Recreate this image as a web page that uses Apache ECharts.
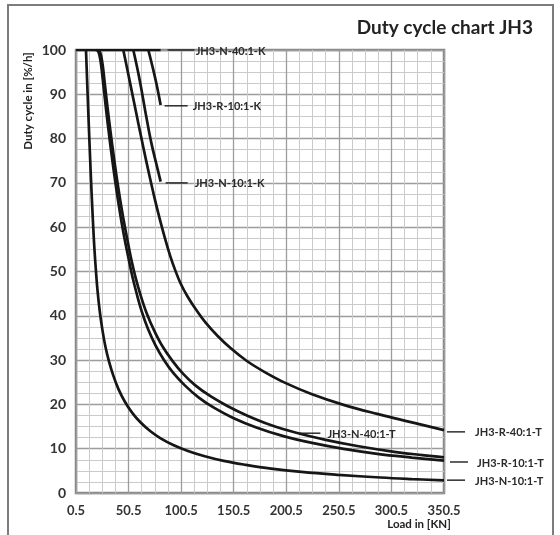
<!DOCTYPE html>
<html><head><meta charset="utf-8">
<script src="https://cdn.jsdelivr.net/npm/echarts@6/dist/echarts.min.js"></script>
<style>html,body{margin:0;padding:0;background:#fff}#c{width:560px;height:535px}</style>
</head><body><div id="c"></div>
<script>
// ---- data ----
const xTickLabels = ['0.5','50.5','100.5','150.5','200.5','250.5','300.5','350.5'];
const yTickLabels = ['0','10','20','30','40','50','60','70','80','90','100'];
const seriesNames = ['JH3-N-40:1-K','JH3-R-10:1-K','JH3-N-10:1-K','JH3-N-40:1-T','JH3-R-40:1-T','JH3-R-10:1-T','JH3-N-10:1-T'];

const n40K = [[0.5,100],[81,100]];
const r10K = [[69.3,100],[73,96.5],[77,92.4],[81,87.6]];
const n10K = [[55,100],[60,94.5],[64,89.4],[67,85.4],[72,79.2],[77,74.2],[81,70.3]];
const n40T = [[21,100],[23,99.7],[24.5,98.6],[26,96.4],[28,92.2],[30.5,87],[33.5,81.2],[36.5,75.8],[39.5,70.8],[42.5,66.2],[45.5,62.0],[49,57.6],[52.5,53.4],[57,48.8],[62,44.6],[68,40.4],[75,36.6],[83,33.0],[92,29.9],[102,27.0],[114,24.3],[128,21.9],[144,19.7],[163,17.5],[185,15.4],[210,13.6],[238,12.0],[268,10.6],[300,9.4],[330,8.55],[350.5,8.05]];
const r40T = [[45.5,100],[50,94.8],[55,89.0],[60,83.2],[65,77.5],[70,72.0],[75,66.8],[80,62.0],[85,57.6],[90,53.6],[95,50.2],[100,47.3],[107,44.2],[115,41.3],[124,38.4],[135,35.5],[148,32.6],[163,29.8],[180,27.3],[200,24.8],[225,22.3],[255,19.9],[287,17.85],[320,15.95],[350.5,14.2]];
const r10T = [[19.5,100],[21.5,99.7],[23,98.6],[24.5,96.4],[26.5,92.2],[29,86.8],[32,80.8],[35,75.2],[38,70.0],[41,65.2],[44,60.9],[47,57.0],[50,53.5],[54,49.0],[58,45.2],[63,41.0],[69,37.0],[76,33.4],[84,30.1],[93,27.1],[104,24.3],[117,21.6],[132,19.2],[150,16.95],[172,14.8],[197,12.9],[225,11.3],[255,9.95],[287,8.85],[320,8.0],[350.5,7.3]];
const n10T = [[10,100],[11,93.6],[12,87.2],[13,81.0],[14,75.1],[15,69.5],[16,64.3],[17,59.5],[18,55.2],[19.5,50],[21,45.6],[23,41.2],[25.5,37],[28.5,33],[32,29.6],[36,26.5],[41,23.4],[47,20.6],[54,18.1],[62,15.9],[71,14.0],[81,12.35],[93,10.85],[107,9.5],[123,8.3],[141,7.25],[162,6.35],[186,5.5],[215,4.75],[250,4.1],[290,3.5],[320,3.15],[350.5,2.85]];
const seriesData = [n40K, r10K, n10K, n40T, r40T, r10T, n10T];

// ---- chart ----
const FONT = 'Lato, "Open Sans", sans-serif';
const chart = echarts.init(document.getElementById('c'), null, {renderer:'canvas'});
const xMin = parseFloat(xTickLabels[0]), xMax = parseFloat(xTickLabels[xTickLabels.length-1]);
const yMin = parseFloat(yTickLabels[0]), yMax = parseFloat(yTickLabels[yTickLabels.length-1]);

const axisCommon = {
  type:'value',
  axisLine:{show:false}, axisTick:{show:false},
  axisLabel:{fontFamily:FONT, fontWeight:'bold', fontSize:13, color:'#333'},
  splitLine:{show:true, lineStyle:{color:'#9c9c9c', width:1.3}},
  minorTick:{show:false, splitNumber:4},
  minorSplitLine:{show:true, lineStyle:{color:'#cacaca', width:1}}
};

chart.setOption({
  animation:false,
  grid:{left:76, top:50, width:368, height:443, show:true, borderColor:'#868686', borderWidth:2.5, backgroundColor:'rgba(0,0,0,0)', containLabel:false},
  xAxis:Object.assign({}, axisCommon, {min:xMin, max:xMax, interval:50,
    axisLabel:Object.assign({}, axisCommon.axisLabel, {margin:11, fontSize:13})}),
  yAxis:Object.assign({}, axisCommon, {min:yMin, max:yMax, interval:10,
    axisLabel:Object.assign({}, axisCommon.axisLabel, {margin:10, fontSize:14})}),
  series: seriesData.map((d,i)=>({
    type:'line', name:seriesNames[i], data:d, smooth:0.4, symbol:'none', showSymbol:false,
    lineStyle:{color:'#161616', width:2.7}, z:5, silent:true
  }))
});

// ---- annotations (labels with leader lines), positioned from data coords ----
const toPx = (pt) => chart.convertToPixel({gridIndex:0}, pt);
const labelLayout = [
  {at:[81,100],   from:7, to:34, tx:35},
  {at:[81,87.4],  from:4, to:27, tx:32},
  {at:[81,70],    from:5, to:27, tx:34},
  {at:[212,13.5], from:0, to:22, tx:29},
  {at:[350.5,13.8], from:3, to:21, tx:31},
  {at:[350.5,7.0],  from:6, to:24, tx:33},
  {at:[350.5,2.9],  from:3, to:21, tx:31}
];
const g = [];
labelLayout.forEach((L,i)=>{
  const p = toPx(L.at);
  g.push({type:'line', shape:{x1:p[0]+L.from, y1:p[1], x2:p[0]+L.to, y2:p[1]}, style:{stroke:'#1e1e1e', lineWidth:1.4}, z:10});
  g.push({type:'text', x:p[0]+L.tx, y:p[1]+1, style:{text:seriesNames[i], font:'bold 11px '+FONT, fill:'#2a2a2a', textAlign:'left', textVerticalAlign:'middle'}, z:10});
});
g.push({type:'rect', shape:{x:8, y:5, width:545, height:560}, style:{fill:'none', stroke:'#7c7c7c', lineWidth:2}, z:1});
g.push({type:'text', x:533, y:28, style:{text:'Duty cycle chart JH3', font:'bold 19px '+FONT, fill:'#222', textAlign:'right', textVerticalAlign:'middle'}, z:10});
g.push({type:'text', x:28, y:101, rotation:Math.PI/2, style:{text:'Duty cycle in [%/h]', font:'bold 11.5px '+FONT, fill:'#222', textAlign:'center', textVerticalAlign:'middle'}, z:10});
g.push({type:'text', x:419, y:524, style:{text:'Load in [KN]', font:'bold 11.5px '+FONT, fill:'#222', textAlign:'center', textVerticalAlign:'middle'}, z:10});
chart.setOption({graphic:g});
</script></body></html>
